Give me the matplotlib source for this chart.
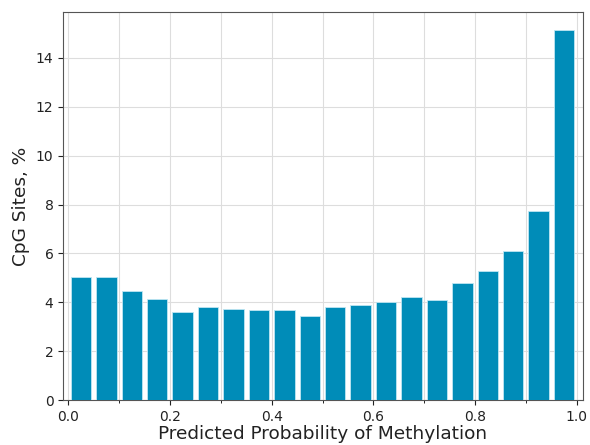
import numpy as np
import matplotlib
matplotlib.use("Agg")
import matplotlib.pyplot as plt
from matplotlib.ticker import MultipleLocator

# share of CpG sites (%) in each 0.05-wide probability bin
bin_left = [0.00, 0.05, 0.10, 0.15, 0.20, 0.25, 0.30, 0.35, 0.40, 0.45,
            0.50, 0.55, 0.60, 0.65, 0.70, 0.75, 0.80, 0.85, 0.90, 0.95]
sites_pct = [5.05, 5.05, 4.46, 4.12, 3.62, 3.81, 3.71, 3.68, 3.70, 3.45,
             3.79, 3.90, 4.02, 4.22, 4.11, 4.79, 5.29, 6.11, 7.74, 15.12]

bin_w = 0.05
centers = np.array(bin_left) + bin_w / 2

fig, ax = plt.subplots(figsize=(5.9, 4.45), dpi=100)
fig.subplots_adjust(left=0.107, right=0.988, top=0.973, bottom=0.101)

ax.bar(centers, sites_pct, width=bin_w * 0.8, color="#008cb8",
       edgecolor="#bfe6f2", linewidth=0.6, zorder=3)

ax.set_xlim(-0.01, 1.012)
ax.xaxis.set_major_locator(MultipleLocator(0.2))
ax.xaxis.set_minor_locator(MultipleLocator(0.1))
ax.yaxis.set_major_locator(MultipleLocator(2))
ax.grid(True, which="both", axis="x", color="#dddddd", linewidth=0.8, zorder=0)
ax.grid(True, which="major", axis="y", color="#dddddd", linewidth=0.8, zorder=0)
ax.tick_params(labelsize=10, colors="#222222")

for s in ax.spines.values():
    s.set_color("#555555")

ax.set_xlabel("Predicted Probability of Methylation", fontsize=13.3,
              color="#222222", labelpad=1)
ax.set_ylabel("CpG Sites, %", fontsize=13.3, color="#222222")

fig.savefig("out.png", dpi=100)
